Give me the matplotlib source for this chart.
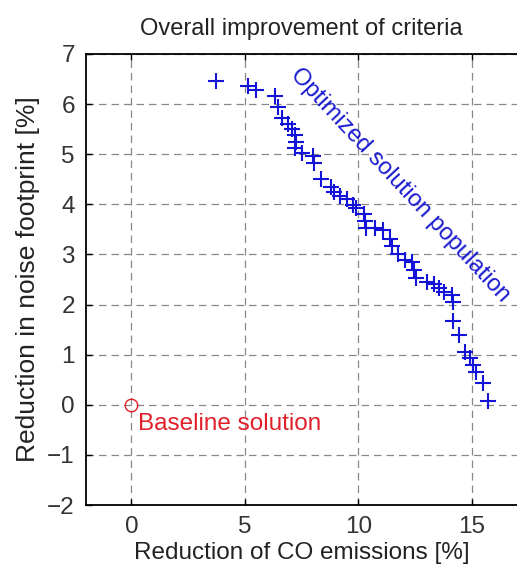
import matplotlib
matplotlib.use("Agg")
import matplotlib.pyplot as plt

plt.rcParams['font.family'] = ['Liberation Sans', 'DejaVu Sans']

# Optimized solution population (CO reduction %, noise reduction %)
co_reduction = [3.75, 5.15, 5.5, 6.35, 6.45, 6.65, 6.9, 7.1, 7.2, 7.25, 7.2, 7.5,
                8.0, 8.05, 8.35, 8.8, 8.95, 9.2, 9.5, 9.75, 9.9, 10.25, 10.3,
                10.35, 10.75, 11.1, 11.4, 11.5, 11.75, 12.05, 12.35, 12.45, 12.55,
                13.05, 13.35, 13.55, 13.8, 14.15, 14.18, 14.2, 14.45, 14.7, 14.95,
                15.05, 15.2, 15.5, 15.7]
noise_reduction = [6.47, 6.37, 6.28, 6.17, 5.95, 5.72, 5.6, 5.5, 5.38, 5.25, 5.12, 5.02,
                   4.97, 4.82, 4.5, 4.34, 4.25, 4.17, 4.1, 3.99, 3.92, 3.8, 3.66,
                   3.53, 3.53, 3.48, 3.3, 3.17, 3.0, 2.88, 2.85, 2.68, 2.52,
                   2.45, 2.42, 2.33, 2.25, 2.2, 2.05, 1.68, 1.4, 1.06, 0.93,
                   0.8, 0.66, 0.44, 0.08]

baseline_co = [0]
baseline_noise = [0]

x_ticks = [0, 5, 10, 15]
y_ticks = [-2, -1, 0, 1, 2, 3, 4, 5, 6, 7]

fig = plt.figure(figsize=(5.17, 5.72), dpi=100)
ax = fig.add_axes([86/517, 1 - 505/572, 1 - 86/517, (505 - 54)/572])

ax.plot(co_reduction, noise_reduction, linestyle='none', marker='+',
        markersize=11.5, markeredgewidth=1.5, color='#1414d8', zorder=3)
ax.plot(baseline_co, baseline_noise, linestyle='none', marker='o',
        markersize=9, markerfacecolor='none', markeredgewidth=1.0,
        color='#e0202a', zorder=3)

ax.set_xlim(-2, 17)
ax.set_ylim(-2, 7)
ax.set_xticks(x_ticks)
ax.set_yticks(y_ticks)

ax.grid(True, linestyle=(0, (6, 4)), color='#888888', linewidth=0.9)
ax.set_axisbelow(True)
ax.tick_params(direction='in', length=4, width=1, labelsize=17.5,
               top=True, right=False, colors='black', labelcolor='#333333', pad=8)
for s in ['left', 'bottom', 'top']:
    ax.spines[s].set_linewidth(1.3)
ax.spines['right'].set_visible(False)

ax.set_title('Overall improvement of criteria', fontsize=17, color='#222222', pad=14)
ax.set_xlabel('Reduction of CO emissions [%]', fontsize=17.5, color='#222222', labelpad=3)
ax.set_ylabel('Reduction in noise footprint [%]', fontsize=19, color='#222222', labelpad=5)

ax.text(0.3, -0.38, 'Baseline solution', color='#e0202a', fontsize=17.5,
        ha='left', va='center')
ax.text(11.83, 4.39, 'Optimized solution population', color='#1a1ad0', fontsize=17,
        rotation=-47, rotation_mode='anchor', ha='center', va='center')

fig.savefig('out.png', dpi=100)
